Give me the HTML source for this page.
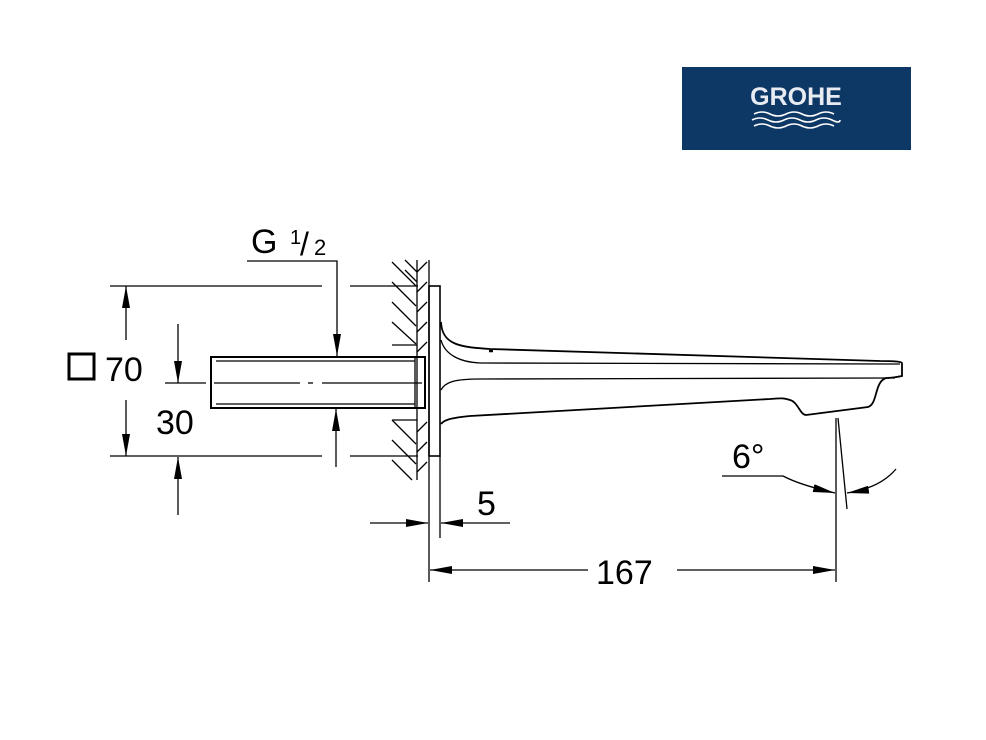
<!DOCTYPE html>
<html><head><style>
body{margin:0;background:#fff;}
svg{display:block;}
text{font-family:"Liberation Sans",Arial,sans-serif;}
</style></head><body>
<svg width="986" height="740" viewBox="0 0 986 740" xmlns="http://www.w3.org/2000/svg">
<defs>
<marker id="a" viewBox="0 0 22 8" refX="22" refY="4" markerWidth="22" markerHeight="8" orient="auto" markerUnits="userSpaceOnUse"><path d="M0,0 L22,4 L0,8 Z" fill="#000"/></marker>
</defs>
<rect x="682" y="67" width="229" height="83" fill="#0d3765"/>
<text x="796" y="105" font-size="25" font-weight="bold" fill="#e8ecf2" text-anchor="middle">GROHE</text>
<g fill="none" stroke="#fff" stroke-width="1.6">
<path d="M754,114 q8,-4 16,0 t16,0 t16,0 t16,0 t16,0"/>
<path d="M752,120 q8,-4 16,0 t16,0 t16,0 t16,0 t16,0 t8,0"/>
<path d="M754,126 q8,-4 16,0 t16,0 t16,0 t16,0 t16,0"/>
</g>
<g stroke="#000" stroke-width="1.3" fill="none">
<line x1="110" y1="286" x2="322" y2="286"/><line x1="350" y1="286" x2="418" y2="286"/>
<line x1="110" y1="456" x2="322" y2="456"/><line x1="350" y1="456" x2="418" y2="456"/>
<line x1="126" y1="340" x2="126" y2="286" marker-end="url(#a)"/>
<line x1="126" y1="400" x2="126" y2="456" marker-end="url(#a)"/>
<line x1="178" y1="324" x2="178" y2="383" marker-end="url(#a)"/>
<line x1="178" y1="515" x2="178" y2="457" marker-end="url(#a)"/>
<line x1="165" y1="383" x2="206" y2="383"/>
<line x1="214" y1="383" x2="300" y2="383" /><line x1="308" y1="383" x2="313" y2="383"/><line x1="322" y1="383" x2="422" y2="383"/>
<polyline points="247,261 337,261 337,356" marker-end="url(#a)"/>
<line x1="336" y1="467" x2="336" y2="409" marker-end="url(#a)"/>
<rect x="211" y="357" width="214" height="51" stroke-width="2"/>
<line x1="216" y1="361" x2="415" y2="361"/><line x1="216" y1="404" x2="415" y2="404"/>
<line x1="415" y1="358" x2="415" y2="407"/>
<line x1="417" y1="260" x2="417" y2="480"/>
<line x1="429" y1="260" x2="429" y2="582"/>
<line x1="392" y1="345" x2="417" y2="345"/><line x1="392" y1="420" x2="417" y2="420"/>
<path d="M392,262 l24,24 M392,282 l24,24 M392,302 l24,24 M392,322 l24,22 M392,420 l24,24 M392,440 l24,24 M392,460 l20,20 M405,260 l12,12 M405,270 l12,12"/>
<path d="M417,272 l10,-10 M417,292 l10,-10 M417,312 l10,-10 M417,332 l10,-10 M417,352 l10,-10 M417,432 l10,-10 M417,452 l10,-10 M417,472 l10,-10"/>
<rect x="429" y="286" width="11" height="170" stroke-width="1.6"/>
<path stroke-width="1.8" d="M441,322 C442,345 460,347 490,349 L880,361 Q902,361 902,363 L902,376 Q892,378 886,378 C874,382 878,404 868,407 L806,415 C800,415 798,402 790,400 C784,398 782,398 770,399 L470,416 C450,418 444,420 441,424"/>
<path d="M441,340 C445,355 460,362 480,363 L900,364"/>
<path d="M441,390 C445,382 455,379 480,379 L895,378"/>
<line x1="489" y1="351" x2="493" y2="351" stroke-width="2.5"/>
<line x1="370" y1="523" x2="428" y2="523" marker-end="url(#a)"/>
<line x1="510" y1="523" x2="441" y2="523" marker-end="url(#a)"/>
<line x1="440" y1="456" x2="440" y2="538"/>
<line x1="588" y1="570" x2="430" y2="570" marker-end="url(#a)"/>
<line x1="677" y1="570" x2="835" y2="570" marker-end="url(#a)"/>
<line x1="836" y1="418" x2="836" y2="582"/>
<line x1="838" y1="418" x2="847" y2="509"/>
<path d="M722,476 L783,476 Q800,485 835,493" marker-end="url(#a)"/>
<path d="M896,469 Q880,488 847,493" marker-end="url(#a)"/>
</g>
<g font-size="34" fill="#000">
<text x="251" y="253">G</text>
<text x="290" y="244" font-size="20">1</text>
<text x="300" y="255" font-size="32">/</text>
<text x="314" y="255" font-size="22">2</text>
<text x="105" y="381">70</text>
<text x="156" y="434">30</text>
<text x="477" y="515">5</text>
<text x="596" y="584">167</text>
<text x="732" y="468">6°</text>
</g>
<rect x="69" y="354" width="25" height="25" fill="none" stroke="#000" stroke-width="3"/>
</svg>
</body></html>
